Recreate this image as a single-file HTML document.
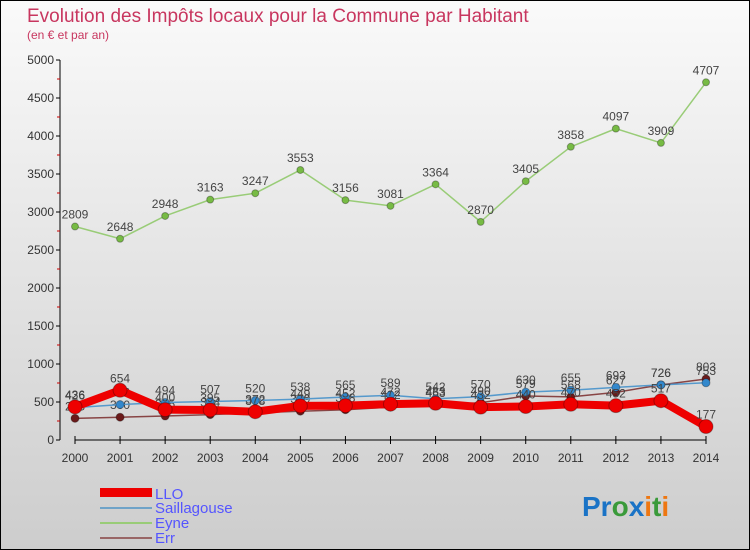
<!DOCTYPE html>
<html><head><meta charset="utf-8"><style>
body{margin:0}
#wrap{width:750px;height:550px;position:relative;box-sizing:border-box;border:1px solid #000;background:linear-gradient(#fafafa,#cdcdcd);font-family:"Liberation Sans",sans-serif;overflow:hidden}
text{font-family:"Liberation Sans",sans-serif}
</style></head><body>
<div id="wrap">
<svg id="svg" width="750" height="550" style="position:absolute;left:-1px;top:-1px">
<text x="27" y="22" font-size="19" fill="#c8365f">Evolution des Impôts locaux pour la Commune par Habitant</text>
<text x="27" y="39" font-size="12" fill="#c8365f">(en € et par an)</text>
<g id="axes"></g><g id="series"></g>
<g>
<rect x="100" y="488" width="52" height="9" fill="#ee0000"/>
<text x="155" y="499" font-size="15" fill="#5555ff">LLO</text>
<rect x="100" y="507" width="52" height="2" fill="#6fa3c8"/>
<text x="155" y="513" font-size="15" fill="#5555ff">Saillagouse</text>
<rect x="100" y="522" width="52" height="2" fill="#99cc77"/>
<text x="155" y="528" font-size="15" fill="#5555ff">Eyne</text>
<rect x="100" y="537" width="52" height="2" fill="#996666"/>
<text x="155" y="543" font-size="15" fill="#5555ff">Err</text>
</g>
<text x="582" y="516" font-size="28" font-weight="bold"><tspan fill="#1a73c6">Pr</tspan><tspan fill="#3a9a3a">o</tspan><tspan fill="#1a73c6">x</tspan><tspan fill="#ee7711">i</tspan><tspan fill="#3a9a3a">t</tspan><tspan fill="#ee7711">i</tspan></text>
</svg>
</div>
<script>
const years=[2000,2001,2002,2003,2004,2005,2006,2007,2008,2009,2010,2011,2012,2013,2014];
const yTicks=[0,500,1000,1500,2000,2500,3000,3500,4000,4500,5000];
const llo=[436,654,400,395,372,449,452,472,483,432,440,470,452,517,177];
const saillagouse=[426,466,494,507,520,538,565,589,542,570,630,655,693,726,753];
const eyne=[2809,2648,2948,3163,3247,3553,3156,3081,3364,2870,3405,3858,4097,3909,4707];
const err=[285,300,315,334,358,379,398,432,463,490,579,568,627,726,803];
const NS="http://www.w3.org/2000/svg";
const X=i=>75+i*(706-75)/(years.length-1);
const Y=v=>440-v*380/5000;
function mk(t,a,p){const e=document.createElementNS(NS,t);for(const k in a)e.setAttribute(k,a[k]);p.appendChild(e);return e;}
const ax=document.getElementById('axes');
let yl=mk('line',{x1:60,y1:60,x2:60,y2:440,stroke:'#000'},ax);


let xl=mk('line',{x1:75,y1:440,x2:706,y2:440,stroke:'#000'},ax);


yTicks.forEach((v,i)=>{
  mk('line',{x1:56,x2:60,y1:Y(v),y2:Y(v),stroke:'#000'},ax);
  if(i<yTicks.length-1)mk('line',{x1:57,x2:60,y1:Y(v+250),y2:Y(v+250),stroke:'#c00'},ax);
  const t=mk('text',{x:54,y:Y(v)+4,'font-size':12,fill:'#333','text-anchor':'end'},ax);
  t.textContent=v;
  
  
});
years.forEach((y,i)=>{
  mk('line',{x1:X(i),x2:X(i),y1:436,y2:444,stroke:'#000'},ax);
  const t=mk('text',{x:X(i),y:462,'font-size':12,fill:'#333','text-anchor':'middle'},ax);
  t.textContent=y;
  
  
});
const sg=document.getElementById('series');
function series(name,data,color,w,r,dot){
  const g=mk('g',{},sg);
  
  
  const pl=mk('polyline',{points:data.map((v,i)=>X(i)+','+Y(v)).join(' '),fill:'none',stroke:color,'stroke-width':w,'stroke-linejoin':'round'},g);
  
  
  data.forEach((v,i)=>{
    const c=mk('circle',{cx:X(i),cy:Y(v),r:r,fill:dot,stroke:'rgba(0,0,0,0.3)'},g);
    
    
    const t=mk('text',{x:X(i),y:Y(v)-8,'font-size':12,fill:'#444','text-anchor':'middle'},g);
    t.textContent=v;
    
    
  });
}
series('eyne',eyne,'#99cc77',1.5,3.5,'#77bb44');
series('err',err,'#884444',1.5,4,'#6b1a1a');
series('saillagouse',saillagouse,'#5599cc',1.5,4,'#3388cc');
series('llo',llo,'#ee0000',8,7,'#ee0000');
</script>
</body></html>
